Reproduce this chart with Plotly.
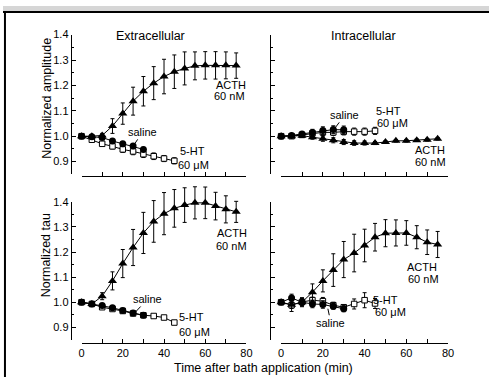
import plotly.graph_objects as go

W, H = 495, 377

# ---------------- data ----------------
time_acth = [0, 5, 10, 15, 20, 25, 30, 35, 40, 45, 50, 55, 60, 65, 70, 75]
time_saline = [0, 5, 10, 15, 20, 25, 30]
time_5ht = [0, 5, 10, 15, 20, 25, 30, 35, 40, 45]

# Extracellular amplitude
ext_amp_acth = [1.000, 1.000, 1.003, 1.040, 1.089, 1.138, 1.177, 1.209, 1.235, 1.254, 1.267, 1.277, 1.279, 1.279, 1.279, 1.278]
ext_amp_acth_err = [0.004, 0.006, 0.008, 0.029, 0.042, 0.055, 0.058, 0.065, 0.068, 0.066, 0.065, 0.055, 0.054, 0.054, 0.053, 0.050]
ext_amp_saline = [1.000, 0.998, 0.995, 0.981, 0.970, 0.961, 0.948]
ext_amp_saline_err = [0.004, 0.005, 0.006, 0.007, 0.008, 0.008, 0.008]
ext_amp_5ht = [1.000, 0.986, 0.970, 0.960, 0.948, 0.940, 0.929, 0.921, 0.912, 0.903]
ext_amp_5ht_err = [0.004, 0.006, 0.008, 0.010, 0.012, 0.013, 0.013, 0.013, 0.012, 0.012]

# Intracellular amplitude
int_amp_acth = [1.000, 1.000, 1.002, 0.996, 0.990, 0.984, 0.977, 0.973, 0.973, 0.973, 0.977, 0.982, 0.982, 0.984, 0.986, 0.990]
int_amp_acth_err = [0.004, 0.005, 0.006, 0.008, 0.010, 0.010, 0.010, 0.009, 0.008, 0.006, 0.005, 0.005, 0.005, 0.005, 0.005, 0.005]
int_amp_saline = [1.000, 1.003, 1.009, 1.015, 1.022, 1.026, 1.025]
int_amp_saline_err = [0.004, 0.006, 0.008, 0.012, 0.015, 0.015, 0.015]
int_amp_5ht = [1.000, 1.000, 1.005, 1.011, 1.015, 1.015, 1.018, 1.018, 1.018, 1.021]
int_amp_5ht_err = [0.004, 0.005, 0.008, 0.010, 0.012, 0.012, 0.013, 0.014, 0.014, 0.014]

# Extracellular tau
ext_tau_acth = [1.000, 0.993, 1.024, 1.085, 1.154, 1.218, 1.276, 1.322, 1.353, 1.374, 1.387, 1.396, 1.396, 1.383, 1.370, 1.360]
ext_tau_acth_err = [0.004, 0.006, 0.014, 0.036, 0.056, 0.072, 0.082, 0.083, 0.084, 0.075, 0.069, 0.064, 0.063, 0.055, 0.054, 0.042]
ext_tau_saline = [1.000, 0.993, 0.987, 0.978, 0.967, 0.957, 0.948]
ext_tau_saline_err = [0.004, 0.005, 0.006, 0.006, 0.006, 0.006, 0.006]
ext_tau_5ht = [1.000, 0.993, 0.980, 0.973, 0.965, 0.955, 0.948, 0.945, 0.939, 0.919]
ext_tau_5ht_err = [0.003, 0.004, 0.005, 0.005, 0.005, 0.005, 0.005, 0.005, 0.005, 0.006]

# Intracellular tau
int_tau_acth = [1.000, 0.990, 1.000, 1.040, 1.085, 1.128, 1.170, 1.196, 1.226, 1.259, 1.275, 1.276, 1.276, 1.259, 1.239, 1.230]
int_tau_acth_err = [0.008, 0.015, 0.018, 0.033, 0.044, 0.065, 0.072, 0.075, 0.065, 0.055, 0.054, 0.052, 0.049, 0.046, 0.049, 0.052]
int_tau_saline = [1.000, 1.017, 1.000, 0.993, 0.991, 0.984, 0.974]
int_tau_saline_err = [0.006, 0.015, 0.015, 0.015, 0.015, 0.012, 0.012]
int_tau_5ht = [1.000, 0.988, 1.001, 1.008, 1.004, 0.988, 0.980, 0.993, 1.008, 0.995]
int_tau_5ht_err = [0.005, 0.025, 0.015, 0.012, 0.015, 0.012, 0.010, 0.020, 0.030, 0.020]

x_ticks = [0, 10, 20, 30, 40, 50, 60, 70, 80]
x_ticktext = ["0", "", "20", "", "40", "", "60", "", "80"]

FONT = "Liberation Sans, Arial, Helvetica, sans-serif"


def px(x):
    return x / W


def py(y):
    return 1 - y / H


# panel geometry (pixel origin of t=0, px per minute, pixel of value 1.0, px per unit)
panels = [
    dict(x0=80.0, ppm=2.1, y1=132.3, ppv=258.0, xline=173.0, yline=69.0, labels=False, ylabels=True),
    dict(x0=283.3, ppm=2.125, y1=132.3, ppv=258.0, xline=173.0, yline=272.0, labels=False, ylabels=False),
    dict(x0=80.0, ppm=2.1, y1=301.0, ppv=255.0, xline=342.7, yline=69.0, labels=True, ylabels=True),
    dict(x0=283.3, ppm=2.125, y1=301.0, ppv=255.0, xline=342.7, yline=272.0, labels=True, ylabels=False),
]

series = [
    (ext_amp_acth, ext_amp_acth_err, ext_amp_saline, ext_amp_saline_err, ext_amp_5ht, ext_amp_5ht_err),
    (int_amp_acth, int_amp_acth_err, int_amp_saline, int_amp_saline_err, int_amp_5ht, int_amp_5ht_err),
    (ext_tau_acth, ext_tau_acth_err, ext_tau_saline, ext_tau_saline_err, ext_tau_5ht, ext_tau_5ht_err),
    (int_tau_acth, int_tau_acth_err, int_tau_saline, int_tau_saline_err, int_tau_5ht, int_tau_5ht_err),
]

XR = [-8, 84]
YR = [0.80, 1.50]

fig = go.Figure()
layout = {}


def err(arr):
    return dict(type="data", array=arr, color="black", thickness=1, width=2)


for i, (p, s) in enumerate(zip(panels, series)):
    n = i + 1
    xa = "x" if n == 1 else f"x{n}"
    ya = "y" if n == 1 else f"y{n}"
    acth, acth_e, sal, sal_e, ht, ht_e = s
    common = dict(xaxis=xa, yaxis=ya, showlegend=False, hoverinfo="skip", cliponaxis=False,
                  line=dict(color="black", width=1))
    fig.add_trace(go.Scatter(x=time_5ht, y=ht, error_y=err(ht_e), mode="lines+markers",
                             marker=dict(symbol="square", size=5.5, color="white",
                                         line=dict(color="black", width=1)), **common))
    fig.add_trace(go.Scatter(x=time_saline, y=sal, error_y=err(sal_e), mode="lines+markers",
                             marker=dict(symbol="circle", size=7, color="black"), **common))
    fig.add_trace(go.Scatter(x=time_acth, y=acth, error_y=err(acth_e), mode="lines+markers",
                             marker=dict(symbol="triangle-up", size=8, color="black"), **common))

    # hidden data axes
    layout[("xaxis" if n == 1 else f"xaxis{n}")] = dict(
        domain=[px(p["x0"] + p["ppm"] * XR[0]), px(p["x0"] + p["ppm"] * XR[1])],
        range=XR, visible=False, anchor=ya, fixedrange=True)
    layout[("yaxis" if n == 1 else f"yaxis{n}")] = dict(
        domain=[py(p["y1"] - p["ppv"] * (YR[0] - 1)), py(p["y1"] - p["ppv"] * (YR[1] - 1))],
        range=YR, visible=False, anchor=xa, fixedrange=True)

    # display axes
    m = n + 4
    fig.add_trace(go.Scatter(x=[40], y=[1.0], xaxis=f"x{m}", yaxis=f"y{m}", mode="markers",
                             marker=dict(opacity=0), showlegend=False, hoverinfo="skip"))
    layout[f"xaxis{m}"] = dict(
        domain=[px(p["x0"]), px(p["x0"] + p["ppm"] * 80)], range=[0, 80],
        anchor="free", position=py(p["xline"]), showline=True, linecolor="black", linewidth=1,
        ticks="inside", ticklen=4, tickcolor="black", tickwidth=1,
        tickmode="array", tickvals=x_ticks, ticktext=x_ticktext,
        showticklabels=p["labels"], showgrid=False, zeroline=False, fixedrange=True,
        tickfont=dict(size=11, color="black", family=FONT))
    layout[f"yaxis{m}"] = dict(
        domain=[py(p["y1"] - p["ppv"] * (0.85 - 1)), py(p["y1"] - p["ppv"] * (1.4 - 1))],
        range=[0.85, 1.4], anchor="free", position=px(p["yline"]),
        showline=True, linecolor="black", linewidth=1,
        ticks="inside", ticklen=4, tickcolor="black", tickwidth=1,
        tick0=0.9, dtick=0.1, tickformat=".1f",
        minor=dict(ticks="inside", dtick=0.05, ticklen=2, tickcolor="black", tickwidth=1),
        showticklabels=p["ylabels"], showgrid=False, zeroline=False, fixedrange=True,
        tickfont=dict(size=11, color="black", family=FONT))

annotations = []


def label(text, x, y, size=11, angle=0):
    annotations.append(dict(text=text, x=px(x), y=py(y), xref="paper", yref="paper",
                            showarrow=False, xanchor="center", yanchor="middle",
                            textangle=angle, font=dict(size=size, color="black", family=FONT)))


label("Extracellular", 150, 30, 12.5)
label("Intracellular", 367, 30, 12.5)
label("Normalized amplitude", 44, 94, 12.5, -90)
label("Normalized tau", 44, 253, 12.5, -90)
label("Time after bath application (min)", 265, 368, 12.5)

# series labels
label("ACTH", 232, 80.5)
label("60 nM", 231, 91)
label("5-HT", 193, 147.5)
label("60 μM", 194, 162)

label("5-HT", 393, 107)
label("60 μM", 397, 119)
label("ACTH", 435, 146.5)
label("60 nM", 435, 159)

label("ACTH", 233, 231)
label("60 nM", 233, 243.5)
label("5-HT", 192, 316.5)
label("60 μM", 195, 331)

label("5-HT", 390, 298.5)
label("60 μM", 395, 311)
label("ACTH", 427, 265)
label("60 nM", 428, 277.5)


def saline(xref, yref, t, v, ax, ay):
    annotations.append(dict(text="saline", x=t, y=v, xref=xref, yref=yref, ax=ax, ay=ay,
                            showarrow=True, arrowhead=0, arrowwidth=1, arrowcolor="black",
                            font=dict(size=11, color="black", family=FONT)))


saline("x", "y", 24.8, 0.958, 10, -15)
saline("x2", "y2", 24.8, 1.021, 12, -16)
saline("x3", "y3", 24.8, 0.949, 15, -16)
saline("x4", "y4", 22.4, 0.974, 3, 14)

shapes = [
    dict(type="rect", xref="paper", yref="paper", x0=0, x1=1, y0=py(5), y1=1,
         fillcolor="#d6d6d6", line=dict(width=0), layer="below"),
    dict(type="line", xref="paper", yref="paper", x0=0, x1=1, y0=py(6), y1=py(6),
         line=dict(color="black", width=2)),
    dict(type="line", xref="paper", yref="paper", x0=px(2), x1=px(2), y0=0, y1=py(6),
         line=dict(color="black", width=2)),
]

fig.update_layout(
    width=W, height=H, margin=dict(l=0, r=0, t=0, b=0),
    paper_bgcolor="white", plot_bgcolor="rgba(0,0,0,0)",
    font=dict(family=FONT, color="black", size=11),
    annotations=annotations, shapes=shapes, **layout)

fig.write_html("out.html")
